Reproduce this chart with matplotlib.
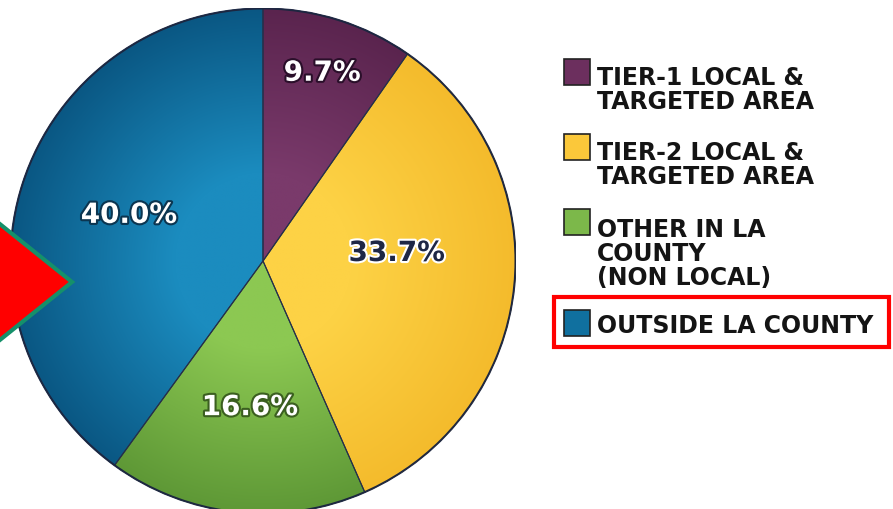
import numpy as np
import matplotlib
matplotlib.use("Agg")
import matplotlib.pyplot as plt
import matplotlib.patheffects as pe
from matplotlib.patches import Wedge, Rectangle, Polygon

# data
labels = ["TIER-1 LOCAL &\nTARGETED AREA", "TIER-2 LOCAL &\nTARGETED AREA",
          "OTHER IN LA\nCOUNTY\n(NON LOCAL)", "OUTSIDE LA COUNTY"]
shares = [9.7, 33.7, 16.6, 40.0]
colors = ["#6c2f5e", "#fbc83a", "#7cb84a", "#10709f"]
light = ["#7a3a6b", "#fdd245", "#8cc852", "#1b8cbf"]
dark = ["#5a244e", "#f4bb2c", "#5e9836", "#0a5783"]
pct_color = ["white", "#1e2745", "white", "white"]
pct_stroke = ["#2a0f2a", "white", "#3b5f20", "#0b3550"]
pct_radius = [0.78, 0.53, 0.58, 0.56]
pct_turn = [0, 9, 1, -1]   # degrees off the wedge middle

W, H = 893, 510
fig = plt.figure(figsize=(W / 100, H / 100), dpi=100)
fig.patch.set_facecolor("white")

# pie axes (centre ~ (263, 262) px, radius ~253 px)
cx, cy, R = 263, 262, 253
ax = fig.add_axes([(cx - R) / W, (H - cy - R) / H, 2 * R / W, 2 * R / H])
wedges, _ = ax.pie(shares, colors=colors, startangle=90, counterclock=False,
                   radius=1, wedgeprops=dict(linewidth=0))

# radial shading clipped to each wedge
g = np.linspace(-1, 1, 500)
xx, yy = np.meshgrid(g, g)
rr = np.sqrt(xx ** 2 + yy ** 2)
t = np.clip((rr - 0.35) / 0.65, 0, 1)[..., None]
for w, c1, c2 in zip(wedges, light, dark):
    a = np.array(matplotlib.colors.to_rgb(c1))
    b = np.array(matplotlib.colors.to_rgb(c2))
    img = a * (1 - t) + b * t
    im = ax.imshow(img, extent=(-1, 1, -1, 1), origin="lower", zorder=2,
                   interpolation="bilinear")
    im.set_clip_path(w)
    ax.add_patch(Wedge(w.center, w.r, w.theta1, w.theta2, fill=False,
                       ec="#26304a", lw=0.8, zorder=3))
ax.add_patch(Wedge((0, 0), 1, 0, 360, width=0.006, fc="#1c2640", ec="none", zorder=4))

for w, s, fc, sc, r, d in zip(wedges, shares, pct_color, pct_stroke, pct_radius, pct_turn):
    mid = np.deg2rad((w.theta1 + w.theta2) / 2 + d)
    ax.text(r * np.cos(mid), r * np.sin(mid), f"{s:.1f}%", ha="center", va="center",
            fontsize=20, fontweight="bold", color=fc, zorder=5,
            path_effects=[pe.withStroke(linewidth=3, foreground=sc)])
ax.set_xlim(-1, 1)
ax.set_ylim(-1, 1)
ax.axis("off")

# overlay in pixel coordinates for legend and marks
ov = fig.add_axes([0, 0, 1, 1], zorder=10)
ov.set_xlim(0, W)
ov.set_ylim(H, 0)
ov.axis("off")
ov.patch.set_alpha(0)

box_top = [60, 135, 210, 311]
first_base = [85, 160, 237, 333]
line_step = 24
for lab, c, y, b in zip(labels, colors, box_top, first_base):
    ov.add_patch(Rectangle((564, y), 26, 26, fc=c, ec="#222222", lw=1.2))
    for i, line in enumerate(lab.split("\n")):
        ov.text(597, b + i * line_step, line, ha="left", va="baseline", fontsize=17,
                fontweight="bold", color="#141414")

# red highlight box round the last legend entry
ov.add_patch(Rectangle((554, 298), 335, 50, fill=False, ec="#ff0000", lw=3))
# red pointer at the left edge
ov.add_patch(Polygon([(-40, 193), (72, 283), (-40, 373)], closed=True,
                     fc="#ff0000", ec="#15906a", lw=3, zorder=5))

fig.savefig("out.png", dpi=100)
